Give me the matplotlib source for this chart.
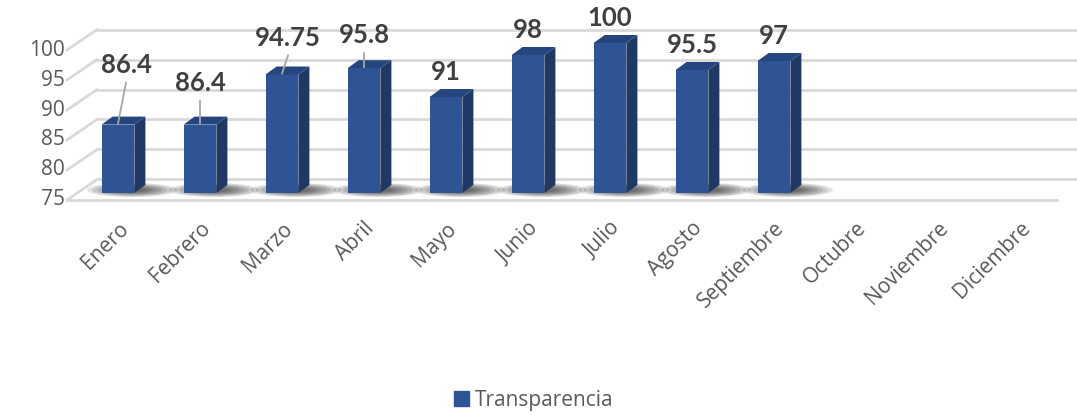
import matplotlib
matplotlib.use("Agg")
import matplotlib.pyplot as plt
from matplotlib.patches import Polygon, Ellipse, Patch
from matplotlib.lines import Line2D
from matplotlib.transforms import IdentityTransform

months = ["Enero", "Febrero", "Marzo", "Abril", "Mayo", "Junio", "Julio",
          "Agosto", "Septiembre", "Octubre", "Noviembre", "Diciembre"]
values = [86.4, 86.4, 94.75, 95.8, 91, 98, 100, 95.5, 97]
value_labels = ["86.4", "86.4", "94.75", "95.8", "91", "98", "100", "95.5", "97"]
yticks = [75, 80, 85, 90, 95, 100]
series_name = "Transparencia"

front = "#2E5496"
side = "#1F3864"
top = "#25457F"
grid = "#D9D9D9"
txt = "#595959"

fig = plt.figure(figsize=(10.77, 4.15), dpi=100)
ax = fig.add_axes([77 / 1077, 222 / 415, 984 / 1077, 150 / 415])
ax.set_xlim(-0.5, 11.5)
ax.set_ylim(75, 100)
for s in ax.spines.values():
    s.set_visible(False)
ident = IdentityTransform()


def px(x, y, dx=0, dy=0):
    X, Y = ax.transData.transform((x, y))
    return X + dx, Y + dy


def seg(p, q, **kw):
    ax.add_line(Line2D([p[0], q[0]], [p[1], q[1]], transform=ident, clip_on=False, **kw))


# walls: back gridlines + left side diagonals
for v in yticks:
    seg(px(-0.5, v, 20, 13.5), (1077, px(-0.5, v, 20, 13.5)[1]), color=grid, lw=2, zorder=0)
    seg(px(-0.5, v, -10, -7), px(-0.5, v, 20, 13.5), color=grid, lw=2, zorder=0)
    p = px(-0.5, v, -12, -7)
    ax.text(p[0], p[1], str(v), transform=ident, ha="right", va="center",
            fontsize=15, family="Open Sans", color=txt)
# floor front edge
seg(px(-0.5, 75, -10, -7), px(11.5, 75, -4, -7), color=grid, lw=2, zorder=0)

# shadows on the floor
for i, v in enumerate(values):
    cx, cy = px(i, 75, 14, 3)
    for k in range(7):
        ax.add_patch(Ellipse((cx, cy), 90 - 10 * k, 14 - 1.5 * k, transform=ident,
                             color="black", alpha=0.11, lw=0, clip_on=False, zorder=1))

# bars (front face) + 3D sides
x = list(range(len(values)))
ax.bar(x, [v - 75 for v in values], bottom=75, width=0.4, color=front, zorder=3)
for i, v in enumerate(values):
    x0, y0 = px(i - 0.2, 75)
    x1, y1 = px(i + 0.2, v)
    ax.add_patch(Polygon([(x1, y0), (x1 + 11, y0 + 8), (x1 + 11, y1 + 8), (x1, y1)],
                         transform=ident, color=side, lw=0, clip_on=False, zorder=3))
    ax.add_patch(Polygon([(x0, y1), (x1, y1), (x1 + 11, y1 + 8), (x0 + 11, y1 + 8)],
                         transform=ident, color=top, lw=0, clip_on=False, zorder=3))

# data labels, first ones pushed up with leader lines
label_shift = {0: (8, 60), 1: (0, 42), 2: (6, 37), 3: (0, 33)}
for i, (v, lab) in enumerate(zip(values, value_labels)):
    dx, dy = label_shift.get(i, (0, 25))
    bx, by = px(i, v)
    ax.text(bx + dx, by + dy, lab, transform=ident, ha="center", va="center",
            fontsize=18.5, fontweight="bold", family="Lato", color="#404040", zorder=5)
    if i in label_shift:
        seg((bx + dx, by + dy - 18), (bx, by + 1), color="#A6A6A6", lw=1.3, zorder=4)

ax.set_yticks([])
ax.set_xticks(range(len(months)))
ax.set_xticklabels(months, rotation=45, ha="right", va="top", rotation_mode="anchor",
                   fontsize=15, family="Open Sans", color=txt)
ax.tick_params(axis="x", length=0, pad=18)
ax.set_xlim(-0.5, 11.5)
ax.set_ylim(75, 100)

fig.legend(handles=[Patch(color=front)], labels=[series_name], loc="center",
           bbox_to_anchor=(0.496, 0.036), frameon=False, handlelength=0.7,
           handleheight=0.7, handletextpad=0.3,
           prop={"family": "Open Sans", "size": 15}, labelcolor=txt)

fig.savefig("out.png", dpi=100)
